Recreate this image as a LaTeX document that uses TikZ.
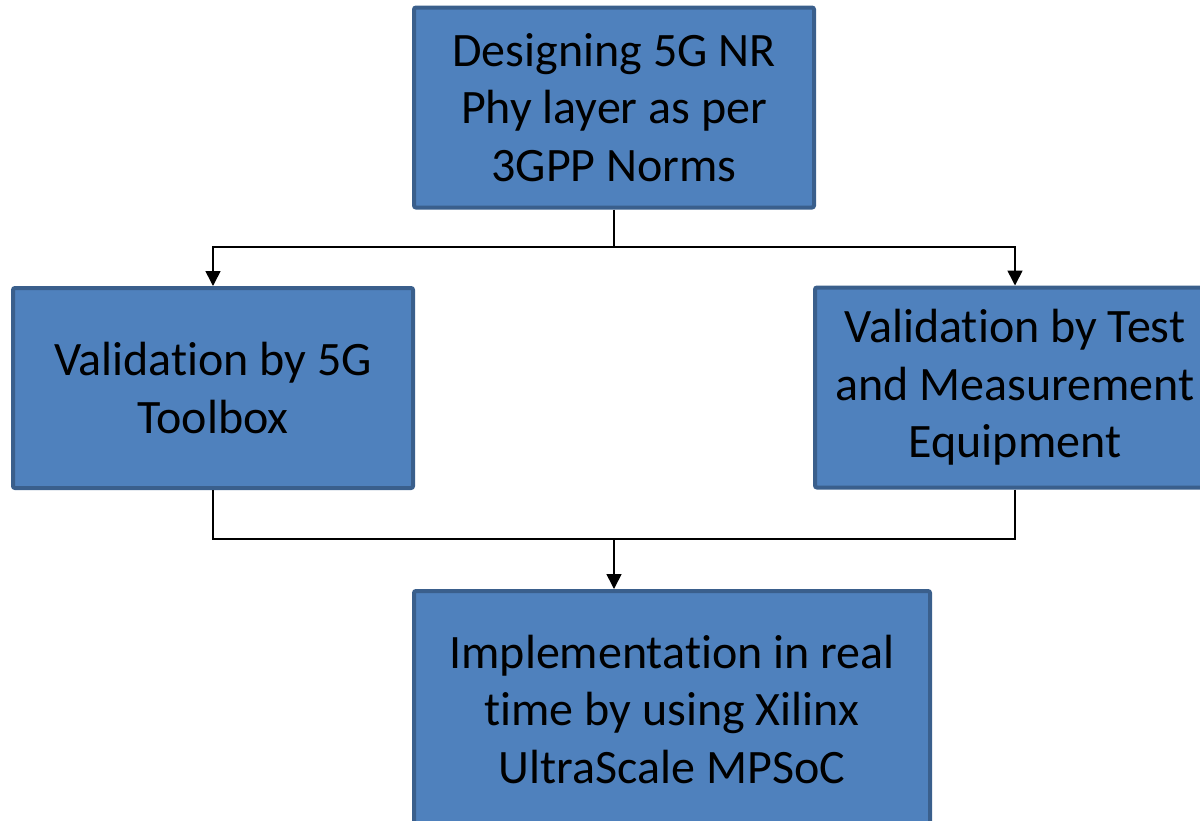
\documentclass[tikz,border=0pt]{standalone}
\usepackage{fontspec}
\setmainfont{Carlito}[Ligatures=NoCommon]
\usetikzlibrary{arrows.meta}
\definecolor{boxfill}{HTML}{4F81BD}
\definecolor{boxline}{HTML}{3A5F8C}
\begin{document}
\begin{tikzpicture}[x=1pt,y=-1pt,
  blk/.style={draw=boxline, fill=boxfill, line width=4pt, rounded corners=2pt,
    minimum width=400pt, minimum height=200pt, align=center, inner sep=0pt,
    font=\fontsize{48}{57.5}\selectfont, text=black},
  conn/.style={line width=1.6pt, black},
  arr/.style={conn, -{Triangle[length=15pt,width=15pt]}}]
\useasboundingbox (0,0) rectangle (1200,820);
\node[blk] (top) at (614,107.5) {Designing 5G NR\\Phy layer as per\\3GPP Norms};
\node[blk] (left) at (213,388) {Validation by 5G\\Toolbox};
\node[blk] (right) at (1015,387.5) {Validation by Test\\and Measurement\\Equipment};
\node[blk, minimum width=516pt, minimum height=236pt] (bot) at (672,709) {Implementation in real\\time by using Xilinx\\UltraScale MPSoC};
\coordinate (j1) at (614,247);
\coordinate (j2) at (614,539);
\draw[conn] (top.south) -- (j1);
\draw[arr] (j1) -| (left.north);
\draw[arr] (j1) -| (right.north);
\draw[conn] (left.south) |- (j2);
\draw[conn] (right.south) |- (j2);
\draw[arr] (j2) -- (j2 |- bot.north);
\end{tikzpicture}
\end{document}
